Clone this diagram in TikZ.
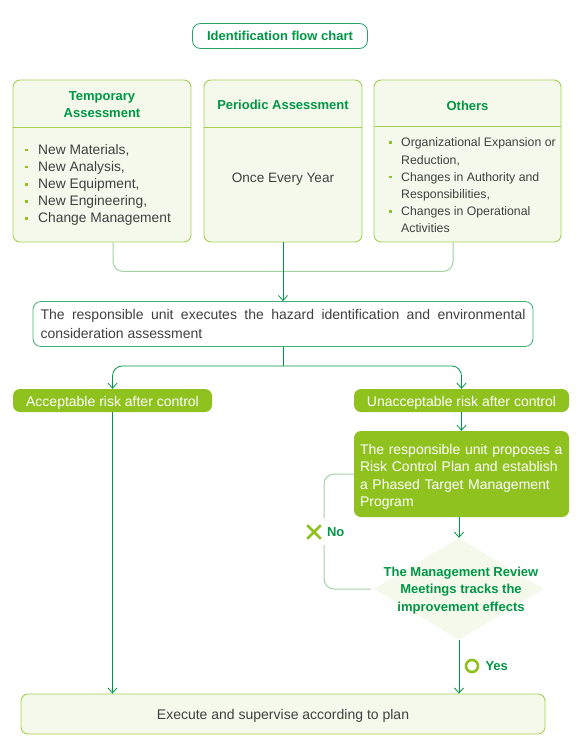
\documentclass[tikz,border=0pt]{standalone}
\usepackage{fontspec}
\setmainfont{Liberation Sans}
\usetikzlibrary{arrows.meta,shapes.geometric,shapes.misc,positioning}
\hyphenpenalty=10000
\exhyphenpenalty=10000
\definecolor{lineg}{RGB}{0,150,70}
\definecolor{softg}{RGB}{165,208,165}
\definecolor{panelg}{RGB}{165,208,85}
\definecolor{panelfill}{RGB}{245,249,236}
\definecolor{accent}{RGB}{143,194,31}
\definecolor{bodytxt}{RGB}{64,64,64}
\tikzset{
  flow/.style={draw=lineg, line width=0.8pt, -{Straight Barb[length=5pt,width=9pt]}},
  softline/.style={draw=softg, line width=1pt, rounded corners=10pt},
  panel/.style={draw=panelg, fill=panelfill, rounded corners=7pt, line width=0.9pt, inner sep=0pt},
  headtxt/.style={text=lineg, font=\fontsize{13}{17}\selectfont\bfseries, align=center},
  bodytext/.style={text=bodytxt, font=\fontsize{13.6}{17.2}\selectfont, align=left, inner sep=0pt},
  greenbox/.style={fill=accent, rounded corners=7pt, text=white, font=\fontsize{14}{17.3}\selectfont, inner sep=0pt},
  oneline/.style={text height=11pt, text depth=0pt},
  lbl/.style={text=lineg, font=\fontsize{13}{15}\selectfont\bfseries, inner sep=0pt},
}
\newcommand{\itm}[1][13pt]{\makebox[#1][l]{\textcolor{accent}{\rule[3pt]{2.5pt}{2.5pt}}}}
\begin{document}
\begin{tikzpicture}[x=1pt,y=-1pt]
  \useasboundingbox (0,0) rectangle (585,746);
  %Title
  \node[draw=lineg!85, fill=white, rounded corners=8pt, line width=0.8pt, minimum width=175pt, minimum height=25pt, lbl, font=\fontsize{13}{15}\selectfont\bfseries] (title) at (280,36) {Identification flow chart};
  %Three kinds of assessment
  \node[panel, minimum width=178pt, minimum height=162pt] (tmp) at (102,161) {};
  \node[panel, minimum width=158pt, minimum height=162pt] (per) at (283,161) {};
  \node[panel, minimum width=187pt, minimum height=162pt] (oth) at (467.5,161) {};
  \draw[draw=panelg, line width=0.9pt] (tmp.west |- 0,127) -- (tmp.east |- 0,127);
  \draw[draw=panelg, line width=0.9pt] (per.west |- 0,127) -- (per.east |- 0,127);
  \draw[draw=panelg, line width=0.9pt] (oth.west |- 0,126) -- (oth.east |- 0,126);
  \node[headtxt] (tmphead) at (102,104.5) {Temporary\\Assessment};
  \node[headtxt] (perhead) at (283,105) {Periodic Assessment};
  \node[headtxt] (othhead) at (467.5,105.5) {Others};
  \node[bodytext, anchor=west, font=\fontsize{13.8}{17.2}\selectfont] (tmplist) at (25,185) {\itm New Materials,\\ \itm New Analysis,\\ \itm New Equipment,\\ \itm New Engineering,\\ \itm Change Management};
  \node[bodytext] (perlist) at (283,179) {Once Every Year};
  \node[bodytext, anchor=west, font=\fontsize{12.3}{17.2}\selectfont] (othlist) at (389,185.5) {\itm[12pt]Organizational Expansion or\\ \hspace*{12pt}Reduction,\\ \itm[12pt]Changes in Authority and\\ \hspace*{12pt}Responsibilities,\\ \itm[12pt]Changes in Operational\\ \hspace*{12pt}Activities};
  %Assessment by the unit
  \node[draw=lineg!75, fill=white, rounded corners=8pt, line width=0.8pt, bodytext, font=\fontsize{14}{18.5}\selectfont, align=justify, text width=485pt, inner xsep=7.5pt, minimum height=45pt] (resp) at (283,324) {The responsible unit executes the hazard identification and environmental consideration assessment};
  \draw[softline] ([xshift=11pt]tmp.south) -- ++(0,29) -| ([xshift=-14.5pt]oth.south);
  \draw[flow] (per.south) -- (resp.north);
  %Risk after control
  \node[greenbox, oneline, minimum width=199pt, minimum height=23pt] (acc) at (112.5,400.5) {Acceptable risk after control};
  \node[greenbox, oneline, minimum width=215pt, minimum height=23pt] (unacc) at (461.5,400.5) {Unacceptable risk after control};
  \path (resp.south) -- ++(0,19) coordinate (split);
  \draw[draw=lineg, line width=0.8pt] (resp.south) -- (split);
  \draw[flow, rounded corners=10pt] (split) -| (acc.north);
  \draw[flow, rounded corners=10pt] (split) -| (unacc.north);
  \node[greenbox, minimum width=215pt, minimum height=86pt] (prop) at (461.5,474) {};
  \node[greenbox, fill=none, text width=205pt, align=left] (proptxt) at (462.5,477) {The responsible unit proposes a Risk Control Plan and establish a Phased Target Management Program};
  \draw[flow] (unacc.south) -- (prop.north);
  %Review
  \node[diamond, fill=panelfill, minimum width=170pt, minimum height=102pt, inner sep=0pt] (dec) at (459,589) {};
  \node[lbl, align=center, font=\fontsize{13}{17.4}\selectfont\bfseries] (dectxt) at (461,590.5) {The Management Review\\Meetings tracks the\\improvement effects};
  \draw[flow] (prop.south -| dec.north) -- (dec.north);
  %No loop
  \coordinate (noA) at (324,545);
  \coordinate (noB) at (324,518);
  \draw[softline] ([xshift=-3pt]dec.west) -| (noA);
  \draw[softline] (noB) |- (prop.west);
  \node[cross out, draw=accent, line width=2.6pt, minimum size=11pt, inner sep=0pt] (nomark) at (314,532) {};
  \node[lbl, right=6pt of nomark] (notxt) {No};
  %Execution
  \node[panel, oneline, minimum width=524pt, minimum height=40pt, bodytext, font=\fontsize{14}{17}\selectfont] (exec) at (283,714) {Execute and supervise according to plan};
  \draw[flow] (acc.south) -- (acc.south |- exec.north);
  \draw[flow] (dec.south) -- (dec.south |- exec.north);
  \node[circle, draw=accent, line width=2.6pt, minimum size=12pt, inner sep=0pt] (yesmark) at (472,666) {};
  \node[lbl, right=6pt of yesmark] (yestxt) {Yes};
\end{tikzpicture}
\end{document}
